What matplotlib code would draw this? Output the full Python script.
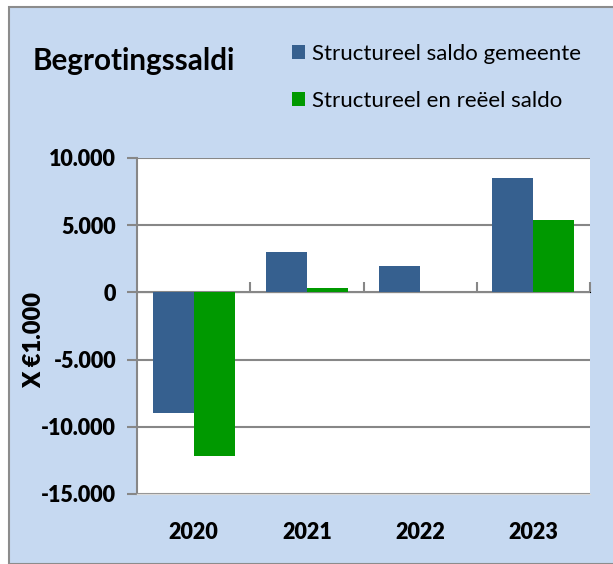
import numpy as np
import matplotlib.pyplot as plt
from matplotlib.patches import Rectangle

years = ['2020', '2021', '2022', '2023']
saldo_gemeente = [-9000, 3000, 2000, 8500]
saldo_reeel = [-12200, 350, 0, 5350]
series_labels = ['Structureel saldo gemeente', 'Structureel en reëel saldo']
y_ticks = [-15000, -10000, -5000, 0, 5000, 10000]
y_tick_labels = ['-15.000', '-10.000', '-5.000', '0', '5.000', '10.000']

BLUE = '#36608F'
GREEN = '#009900'
BG = '#C6D9F1'
GRID = '#878787'

plt.rcParams['font.family'] = ['Lato', 'DejaVu Sans']

fig = plt.figure(figsize=(6.13, 5.64), dpi=100)
fig.patch.set_facecolor('white')
# chart area with grey border at top/left
fig.patches.append(Rectangle((9 / 613, 0), 1, 1 - 7 / 564, transform=fig.transFigure,
                             facecolor=BG, edgecolor='#8C8C8C', linewidth=1.5, zorder=-10))

ax = fig.add_axes([137 / 613, 1 - 494 / 564, 453 / 613, 336 / 564])
ax.set_facecolor('white')

x = np.arange(len(years))
w = 0.362
ax.bar(x - w / 2, saldo_gemeente, w, color=BLUE, label=series_labels[0], zorder=3)
ax.bar(x + w / 2, saldo_reeel, w, color=GREEN, label=series_labels[1], zorder=3)

ax.set_xlim(-0.5, 3.5)
ax.set_ylim(-15000, 10000)
ax.set_yticks(y_ticks, y_tick_labels, fontweight='heavy', fontsize=15.5)
ax.set_xticks(x, years, fontweight='heavy', fontsize=15.5)
ax.grid(axis='y', color=GRID, linewidth=1.5, zorder=1)
ax.set_axisbelow(True)

for s in ['top', 'right']:
    ax.spines[s].set_visible(False)
ax.spines['bottom'].set_color('#D9D9D9')
ax.spines['bottom'].set_linewidth(1.0)
ax.spines['left'].set_color(GRID)
ax.spines['left'].set_linewidth(1.5)

ax.tick_params(axis='y', length=7, width=1.5, color=GRID, pad=8)
ax.tick_params(axis='x', length=0, pad=20)

# category axis drawn at zero
zero_ax = ax.secondary_xaxis((0 - -15000) / 25000)
zero_ax.set_xticks([0.5, 1.5, 2.5, 3.5])
zero_ax.set_xticklabels([])
zero_ax.tick_params(axis='x', direction='out', length=7, width=1.5, color=GRID)
zero_ax.spines['bottom'].set_color(GRID)
zero_ax.spines['bottom'].set_linewidth(1.5)

ax.set_ylabel('X €1.000', fontsize=17, fontweight='heavy')
ax.yaxis.set_label_coords(-(137 - 45) / 453, (494 - 340) / 336)

fig.text(33 / 613, 1 - 61 / 564, 'Begrotingssaldi', fontsize=21.3, fontweight='bold',
         va='center', ha='left')

fig.legend(loc='upper left', bbox_to_anchor=(283 / 613, 1 - 35 / 564), frameon=False,
           fontsize=16, handlelength=0.6, handleheight=0.6, handletextpad=0.3,
           labelspacing=1.2, borderaxespad=0)

fig.savefig('out.png', dpi=100)
